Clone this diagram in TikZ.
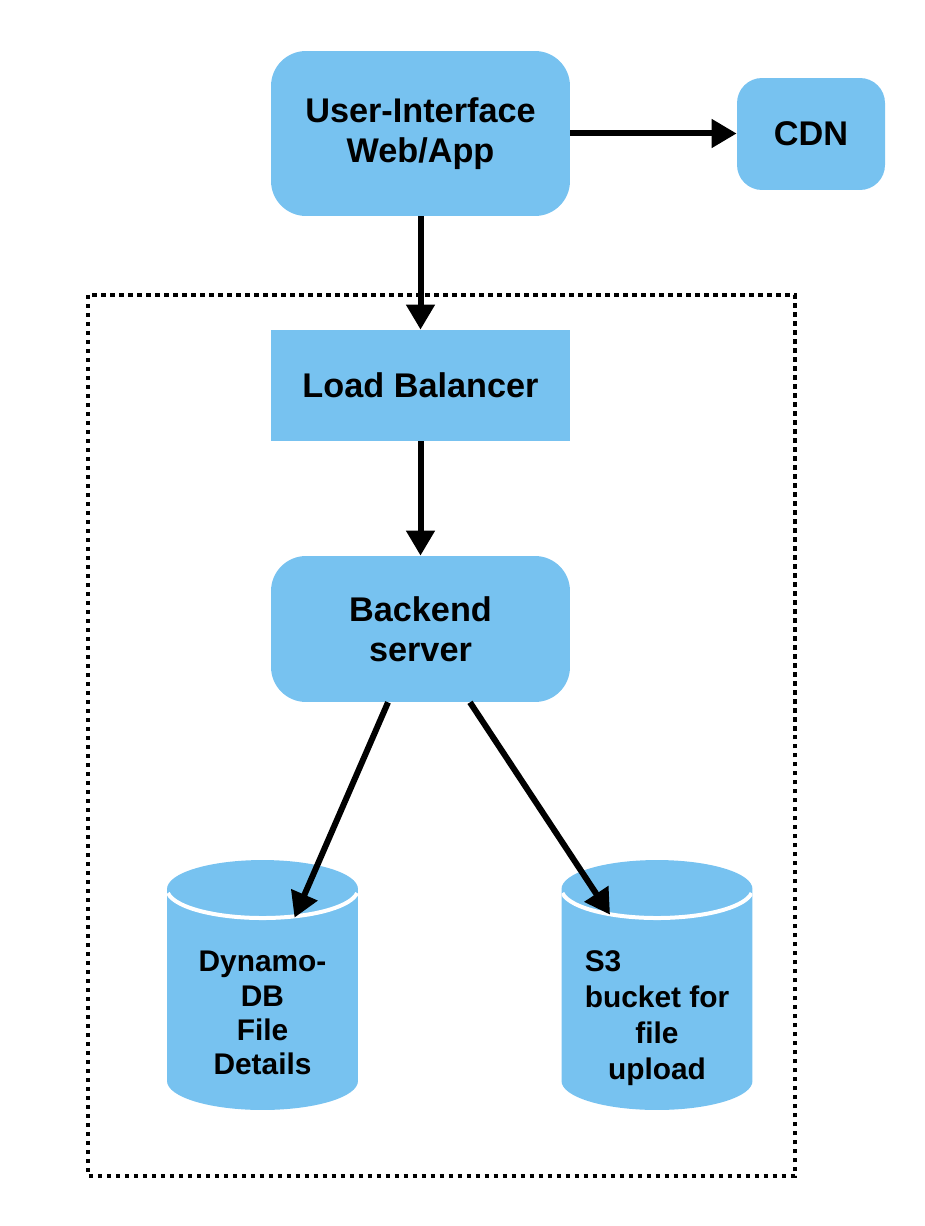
\documentclass[tikz,border=0pt]{standalone}
\usepackage{fontspec}
\setmainfont{Liberation Sans}
\usepackage{calc}
\usetikzlibrary{arrows.meta}
\definecolor{boxblue}{RGB}{119,194,240}
\begin{document}
\begin{tikzpicture}[x=0.02cm, y=-0.02cm, >={Triangle[length=0.5cm,width=0.55cm]},
    box/.style={fill=boxblue, align=center, font=\fontsize{19.5}{23}\selectfont\bfseries, inner sep=0pt},
    store/.style={minimum width=3.82cm, minimum height=5cm, inner sep=0pt,
        path picture={
            \fill[boxblue] ([yshift=-0.58cm]path picture bounding box.north west)
                arc[start angle=180, end angle=0, x radius=1.91cm, y radius=0.58cm]
                -- ([yshift=0.58cm]path picture bounding box.south east)
                arc[start angle=0, end angle=-180, x radius=1.91cm, y radius=0.58cm] -- cycle;
            \draw[white, line width=0.08cm] ([yshift=-0.58cm]path picture bounding box.north)
                ++(188:1.91cm and 0.58cm)
                arc[start angle=188, end angle=352, x radius=1.91cm, y radius=0.58cm];
        }},
    storetext/.style={align=center, font=\fontsize{17}{19.5}\selectfont\bfseries},
    link/.style={->, line width=0.12cm},
    group/.style={line width=0.08cm, dash pattern=on 0.09cm off 0.09cm}]
    \useasboundingbox (0,0) rectangle (924,1226);
    \draw[group] (88,295) rectangle (795,1176);
    \node[box, rounded corners=0.7cm, minimum width=5.98cm, minimum height=3.3cm] (ui) at (420.5,133.5) {User-Interface\\Web/App};
    \node[box, rounded corners=0.5cm, minimum width=2.96cm, minimum height=2.24cm] (cdn) at (811,134) {CDN};
    \node[box, minimum width=5.98cm, minimum height=2.22cm] (lb) at (420.5,385.5) {Load Balancer};
    \node[box, rounded corners=0.7cm, minimum width=5.98cm, minimum height=2.92cm] (backend) at (420.5,629) {Backend\\server};
    \node[store, label={[storetext, yshift=-0.56cm]center:Dynamo-\\DB\\File\\Details}] (dynamo) at (262.5,985) {};
    \node[store, label={[storetext, font=\fontsize{17}{20.5}\selectfont\bfseries, yshift=-0.66cm]center:\makebox[\widthof{bucket for}][l]{S3}\\bucket for\\file\\upload}] (s3) at (657,985) {};
    \draw[link] (ui.east) -- (ui.east -| cdn.west);
    \draw[link] (ui.south) -- (lb.north);
    \draw[link] (lb.south) -- (backend.north);
    \draw[link] ([xshift=-0.65cm]backend.south) -- ([xshift=0.64cm,yshift=-1.16cm]dynamo.north);
    \draw[link] ([xshift=0.99cm]backend.south) -- ([xshift=-0.94cm,yshift=-1.1cm]s3.north);
\end{tikzpicture}
\end{document}
